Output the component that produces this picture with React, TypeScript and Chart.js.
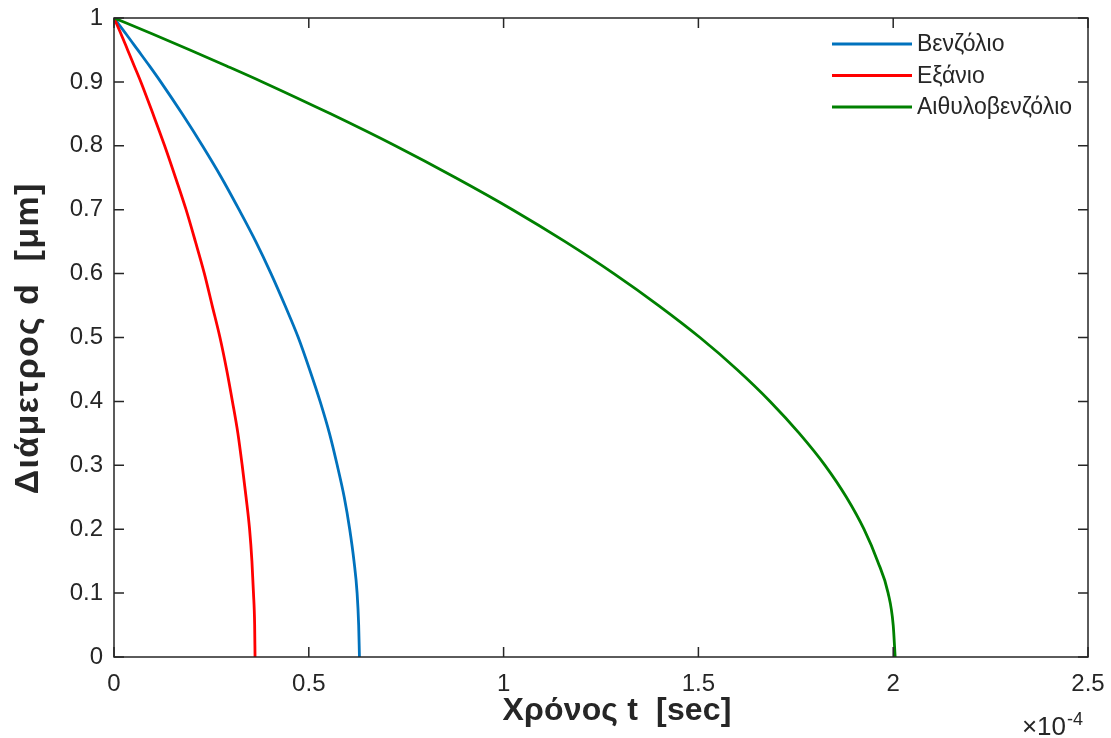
import React, { useEffect, useRef } from "react";
import { Chart, registerables } from "chart.js";

Chart.register(...registerables);

// Droplet diameter d [μm] (shared y values)
const diameters = [1, 0.975, 0.95, 0.925, 0.9, 0.85, 0.8, 0.75, 0.7, 0.65, 0.6, 0.55, 0.5, 0.45, 0.4, 0.35, 0.3, 0.25, 0.2, 0.15, 0.1, 0.05, 0];

// Time t [×10^-4 sec] for each diameter above
const benzeneTimes = [0, 0.031, 0.061, 0.091, 0.12, 0.175, 0.227, 0.276, 0.321, 0.364, 0.403, 0.439, 0.473, 0.502, 0.529, 0.553, 0.573, 0.591, 0.605, 0.616, 0.624, 0.628, 0.63];
const hexaneTimes = [0, 0.018, 0.035, 0.052, 0.069, 0.1, 0.13, 0.158, 0.185, 0.209, 0.232, 0.252, 0.272, 0.289, 0.304, 0.318, 0.329, 0.339, 0.348, 0.354, 0.358, 0.361, 0.362];
const ethylbenzeneTimes = [0, 0.099, 0.195, 0.289, 0.381, 0.556, 0.722, 0.877, 1.023, 1.158, 1.283, 1.398, 1.504, 1.599, 1.684, 1.759, 1.825, 1.88, 1.925, 1.96, 1.987, 2.0, 2.005];

const seriesLabels = ["Βενζόλιο", "Εξάνιο", "Αιθυλοβενζόλιο"];
const seriesColors = ["#0072BD", "#FF0000", "#008000"];

const xTickValues = [0, 0.5, 1, 1.5, 2, 2.5];
const yTickValues = [0, 0.1, 0.2, 0.3, 0.4, 0.5, 0.6, 0.7, 0.8, 0.9, 1];

const xTitle = "Χρόνος t  [sec]";
const yTitle = "Διάμετρος d  [μm]";
const xExponentBase = "×10";
const xExponent = "-4";

const FONT = "'Liberation Sans', Arial, Helvetica, sans-serif";
const AXIS_COLOR = "#262626";

const toPoints = (ts: number[]) => ts.map((t, i) => ({ x: t, y: diameters[i] }));

// draw text stretched (via letter spacing) to a target width
function spacedText(ctx: any, text: string, x: number, y: number, target: number) {
  ctx.letterSpacing = "0px";
  const w = ctx.measureText(text).width;
  const n = Array.from(text).length;
  const sp = n > 1 ? Math.max(0, (target - w) / n) : 0;
  ctx.letterSpacing = `${sp}px`;
  ctx.fillText(text, x + sp / 2, y);
  ctx.letterSpacing = "0px";
}

const matlabPlugin = {
  id: "matlabAxes",
  afterDatasetsDraw(chart: any) {
    const { ctx, chartArea: a, scales } = chart;
    const xs = scales.x;
    const ys = scales.y;
    ctx.save();
    // box
    ctx.strokeStyle = AXIS_COLOR;
    ctx.lineWidth = 1.5;
    ctx.strokeRect(a.left, a.top, a.right - a.left, a.bottom - a.top);
    // inward ticks on all sides
    const tl = 10;
    ctx.beginPath();
    for (const t of xs.ticks) {
      const px = xs.getPixelForValue(t.value);
      ctx.moveTo(px, a.bottom);
      ctx.lineTo(px, a.bottom - tl);
      ctx.moveTo(px, a.top);
      ctx.lineTo(px, a.top + tl);
    }
    for (const t of ys.ticks) {
      const py = ys.getPixelForValue(t.value);
      ctx.moveTo(a.left, py);
      ctx.lineTo(a.left + tl, py);
      ctx.moveTo(a.right, py);
      ctx.lineTo(a.right - tl, py);
    }
    ctx.stroke();

    // legend (inside, top-right, no box)
    ctx.font = `23px ${FONT}`;
    ctx.textBaseline = "middle";
    ctx.textAlign = "left";
    chart.data.datasets.forEach((ds: any, i: number) => {
      const y = a.top + 26 + i * 31.5;
      ctx.strokeStyle = ds.borderColor;
      ctx.lineWidth = 2.8;
      ctx.beginPath();
      ctx.moveTo(a.right - 256, y);
      ctx.lineTo(a.right - 176, y);
      ctx.stroke();
      ctx.fillStyle = AXIS_COLOR;
      ctx.fillText(ds.label, a.right - 171, y + 1);
    });

    // axis titles
    ctx.fillStyle = AXIS_COLOR;
    ctx.textAlign = "left";
    ctx.textBaseline = "middle";
    ctx.letterSpacing = "0px";
    ctx.font = `bold 32px ${FONT}`;
    const xw = 229;
    spacedText(ctx, xs.options.title.text, 617 - xw / 2, 711, xw);
    ctx.save();
    ctx.font = `bold 34px ${FONT}`;
    ctx.translate(29, 339);
    ctx.rotate(-Math.PI / 2);
    const yw = 312;
    spacedText(ctx, ys.options.title.text, -yw / 2, 0, yw);
    ctx.restore();

    // exponent label
    ctx.textBaseline = "alphabetic";
    ctx.font = `26px ${FONT}`;
    ctx.textAlign = "right";
    ctx.fillText(xExponentBase, a.right - 22, 735);
    ctx.font = `18px ${FONT}`;
    ctx.textAlign = "left";
    ctx.fillText(xExponent, a.right - 21, 725);
    ctx.restore();
  },
};

const fmt = (v: any) => String(Number(Number(v).toFixed(2)));

export default function App() {
  const ref = useRef<HTMLCanvasElement>(null);
  useEffect(() => {
    if (!ref.current) return;
    const series = [benzeneTimes, hexaneTimes, ethylbenzeneTimes];
    const chart = new Chart(ref.current, {
      type: "line",
      data: {
        datasets: series.map((ts, i) => ({
          label: seriesLabels[i],
          data: toPoints(ts),
          borderColor: seriesColors[i],
          backgroundColor: seriesColors[i],
          borderWidth: 2.8,
          pointRadius: 0,
          cubicInterpolationMode: "monotone",
          fill: false,
          order: 2 - i,
        })),
      },
      options: {
        animation: false,
        responsive: true,
        maintainAspectRatio: false,
        layout: { padding: { top: 18, right: 23, left: 0, bottom: 0 } },
        plugins: {
          legend: { display: false },
          tooltip: { enabled: false },
        },
        scales: {
          x: {
            type: "linear",
            min: 0,
            max: 2.5,
            grid: { display: false, drawTicks: false },
            border: { display: false },
            title: { display: false, text: xTitle },
            afterBuildTicks: (s: any) => {
              s.ticks = xTickValues.map((v) => ({ value: v }));
            },
            afterFit: (s: any) => {
              s.height = 81;
              s.paddingLeft = 0;
              s.paddingRight = 0;
            },
            ticks: {
              padding: 13,
              color: AXIS_COLOR,
              font: { family: FONT, size: 24 },
              maxRotation: 0,
              autoSkip: false,
              callback: (v: any) => fmt(v),
            },
          },
          y: {
            type: "linear",
            min: 0,
            max: 1,
            grid: { display: false, drawTicks: false },
            border: { display: false },
            title: { display: false, text: yTitle },
            afterBuildTicks: (s: any) => {
              s.ticks = yTickValues.map((v) => ({ value: v }));
            },
            afterFit: (s: any) => {
              s.width = 114;
              s.paddingTop = 0;
              s.paddingBottom = 0;
            },
            ticks: {
              padding: 11,
              color: AXIS_COLOR,
              font: { family: FONT, size: 24 },
              autoSkip: false,
              callback: (v: any) => fmt(v),
            },
          },
        },
      },
      plugins: [matlabPlugin],
    });
    return () => chart.destroy();
  }, []);
  return (
    <div style={{ position: "absolute", left: 0, top: 0, width: 1111, height: 738, background: "#fff" }}>
      <canvas ref={ref} style={{ display: "block" }} />
    </div>
  );
}
